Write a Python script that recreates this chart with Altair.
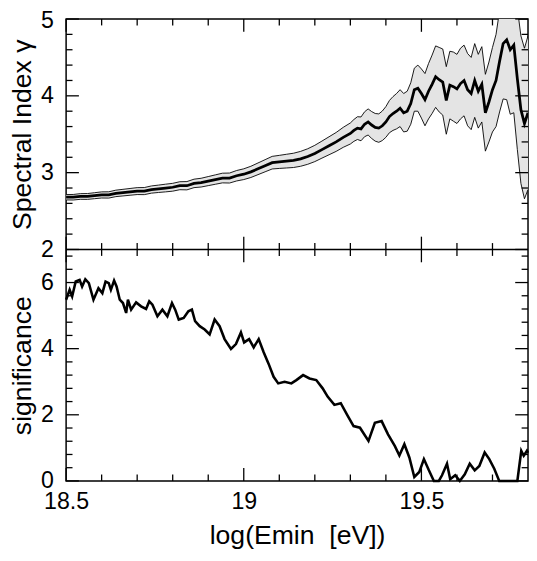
import altair as alt
import pandas as pd

# ---------------- data ----------------
top_x = [18.50, 18.52, 18.54, 18.56, 18.58, 18.60, 18.62, 18.64, 18.66, 18.68,
         18.70, 18.72, 18.74, 18.76, 18.78, 18.80, 18.82, 18.84, 18.86, 18.88,
         18.90, 18.92, 18.94, 18.96, 18.98, 19.00, 19.02, 19.04, 19.06, 19.08,
         19.10, 19.12, 19.14, 19.16, 19.18, 19.20, 19.22, 19.24, 19.26, 19.28,
         19.30, 19.31, 19.32, 19.33, 19.34, 19.35, 19.36, 19.37, 19.38, 19.39,
         19.40, 19.41, 19.42, 19.43, 19.44, 19.45, 19.46, 19.47, 19.48, 19.49,
         19.50, 19.51, 19.52, 19.53, 19.54, 19.55, 19.56, 19.57, 19.58, 19.59,
         19.60, 19.61, 19.62, 19.63, 19.64, 19.65, 19.66, 19.67, 19.68, 19.69,
         19.70, 19.71, 19.72, 19.73, 19.74, 19.75, 19.76, 19.77, 19.78, 19.79,
         19.80]
top_c = [2.68, 2.68, 2.69, 2.69, 2.70, 2.71, 2.71, 2.73, 2.74, 2.75,
         2.76, 2.76, 2.78, 2.79, 2.80, 2.81, 2.83, 2.83, 2.86, 2.87,
         2.89, 2.91, 2.93, 2.93, 2.96, 2.98, 3.01, 3.05, 3.09, 3.13,
         3.14, 3.15, 3.16, 3.18, 3.21, 3.25, 3.30, 3.35, 3.40, 3.46,
         3.51, 3.55, 3.58, 3.57, 3.63, 3.66, 3.62, 3.59, 3.58, 3.61,
         3.66, 3.73, 3.77, 3.80, 3.84, 3.78, 3.80, 3.90, 4.08, 4.10,
         4.03, 3.95, 4.06, 4.15, 4.25, 4.21, 4.18, 3.94, 4.14, 4.12,
         4.09, 4.16, 4.20, 4.08, 4.03, 4.20, 4.06, 4.15, 3.78, 3.92,
         4.08, 4.20, 4.45, 4.68, 4.73, 4.60, 4.66, 4.22, 3.82, 3.64,
         3.78]
top_err = [0.035, 0.036, 0.037, 0.038, 0.039, 0.040, 0.041, 0.042, 0.043, 0.044,
           0.045, 0.046, 0.047, 0.048, 0.050, 0.051, 0.052, 0.054, 0.055, 0.057,
           0.059, 0.061, 0.063, 0.065, 0.068, 0.070, 0.073, 0.076, 0.079, 0.082,
           0.085, 0.089, 0.093, 0.097, 0.101, 0.106, 0.111, 0.117, 0.123, 0.130,
           0.137, 0.142, 0.148, 0.155, 0.162, 0.170, 0.175, 0.180, 0.185, 0.192,
           0.200, 0.21, 0.22, 0.23, 0.24, 0.25, 0.26, 0.27, 0.28, 0.30,
           0.32, 0.34, 0.36, 0.38, 0.40, 0.42, 0.43, 0.44, 0.44, 0.45,
           0.45, 0.46, 0.46, 0.47, 0.47, 0.48, 0.48, 0.49, 0.50, 0.52,
           0.55, 0.60, 0.66, 0.72, 0.78, 0.84, 0.88, 0.92, 0.96, 0.98,
           1.00]

sig_x = [18.500, 18.510, 18.517, 18.527, 18.538, 18.545, 18.554, 18.564, 18.577, 18.591,
         18.602, 18.611, 18.620, 18.626, 18.635, 18.642, 18.651, 18.660, 18.669, 18.674,
         18.683, 18.697, 18.711, 18.725, 18.734, 18.743, 18.757, 18.771, 18.785, 18.798,
         18.807, 18.817, 18.831, 18.844, 18.854, 18.863, 18.876, 18.890, 18.904, 18.918,
         18.932, 18.946, 18.964, 18.978, 18.992, 19.001, 19.015, 19.028, 19.042, 19.056,
         19.070, 19.084, 19.097, 19.115, 19.134, 19.148, 19.167, 19.185, 19.204, 19.222,
         19.236, 19.255, 19.273, 19.291, 19.309, 19.327, 19.351, 19.369, 19.388, 19.406,
         19.425, 19.438, 19.452, 19.466, 19.480, 19.494, 19.507, 19.521, 19.535, 19.549,
         19.558, 19.572, 19.581, 19.595, 19.608, 19.622, 19.636, 19.650, 19.663, 19.678,
         19.691, 19.705, 19.719, 19.770, 19.781, 19.788, 19.797, 19.800]
sig_v = [5.48, 5.78, 5.58, 6.03, 6.08, 5.88, 6.10, 5.98, 5.48, 5.83,
         5.68, 6.03, 5.98, 5.78, 6.06, 5.88, 5.48, 5.38, 5.08, 5.48,
         5.18, 5.40, 5.28, 5.20, 5.43, 5.33, 4.98, 5.18, 4.98, 5.38,
         5.18, 4.88, 4.93, 5.13, 5.18, 4.83, 4.68, 4.58, 4.43, 4.88,
         4.68, 4.29, 3.99, 4.14, 4.49, 4.19, 4.29, 4.04, 4.29, 3.89,
         3.54, 3.15, 2.95, 3.00, 2.95, 3.05, 3.20, 3.10, 3.05, 2.80,
         2.55, 2.30, 2.35, 2.00, 1.66, 1.61, 1.21, 1.76, 1.81, 1.41,
         1.06, 0.77, 1.11, 0.71, 0.12, 0.27, 0.66, 0.32, 0.00, 0.00,
         0.17, 0.52, 0.05, 0.17, 0.00, 0.20, 0.52, 0.32, 0.45, 0.86,
         0.66, 0.37, 0.00, 0.00, 0.91, 0.76, 0.91, 0.85]

top_y_major = [2, 3, 4, 5]
top_y_minor = [2.2, 2.4, 2.6, 2.8, 3.2, 3.4, 3.6, 3.8, 4.2, 4.4, 4.6, 4.8]
bot_y_major = [0, 2, 4, 6]
bot_y_minor = [0.4, 0.8, 1.2, 1.6, 2.4, 2.8, 3.2, 3.6, 4.4, 4.8, 5.2, 5.6, 6.4, 6.8]
x_major = [18.5, 19.0, 19.5]
x_minor = [18.6, 18.7, 18.8, 18.9, 19.1, 19.2, 19.3, 19.4, 19.6, 19.7]

# ---------------- styling ----------------
W = 469            # plot width
H1 = 234           # upper panel height
H = 469            # both panels together
MAJ, MIN = 13, 6.5
FONT = "Liberation Sans"
LAB = 23.5
TIT = 27

xs = alt.Scale(domain=[18.5, 19.8], nice=False, zero=False)
ys_top = alt.Scale(domain=[2, 5], range=[H1, 0], nice=False, zero=False)
ys_bot = alt.Scale(domain=[0, 7], range=[H, H1], nice=False, zero=False)

AX = dict(labelFont=FONT, titleFont=FONT, labelFontSize=LAB, titleFontSize=TIT,
          labelColor="black", titleColor="black", titleFontWeight="normal",
          grid=False, domain=False, ticks=False, tickSize=0, labelFlush=False)

ax_top_y = alt.Axis(values=top_y_major, format="d", title="Spectral Index γ",
                    orient="left", labelPadding=13, titlePadding=4,
                    labelOffset={"condition": {"test": "datum.value === 5", "value": 2},
                                 "value": 0},
                    **AX)
ax_bot_y = alt.Axis(values=bot_y_major, format="d", title="significance",
                    orient="left", labelPadding=13, titlePadding=4, **AX)
ax_x = alt.Axis(values=x_major, format="~g", title="log(Emin\u00a0 [eV])",
                orient="bottom", labelPadding=9.5, titlePadding=10, **AX)

top_df = pd.DataFrame({
    "x": top_x,
    "c": top_c,
    "lo": [c - e for c, e in zip(top_c, top_err)],
    "hi": [c + e for c, e in zip(top_c, top_err)],
})
sig_df = pd.DataFrame({"x": sig_x, "s": sig_v})

RULE = dict(color="black", strokeWidth=1.3)
X = dict(scale=xs, axis=ax_x)


def y_ticks(vals, ys, length):
    d = pd.DataFrame({"t": vals})
    base = alt.Chart(d).mark_rule(**RULE)
    left = base.encode(y=alt.Y("t:Q", scale=ys, axis=None),
                       x=alt.value(0), x2=alt.value(length))
    right = base.encode(y=alt.Y("t:Q", scale=ys, axis=None),
                        x=alt.value(W), x2=alt.value(W - length))
    return [left, right]


def x_ticks(vals, length):
    d = pd.DataFrame({"t": vals})
    base = alt.Chart(d).mark_rule(**RULE)
    out = []
    for y0, y1 in [(0, length), (H1, H1 - length), (H1, H1 + length), (H, H - length)]:
        out.append(base.encode(x=alt.X("t:Q", **X),
                               y=alt.value(y0), y2=alt.value(y1)))
    return out


tb = alt.Chart(top_df)
band = tb.mark_area(color="#e4e4e4", clip=True).encode(
    x=alt.X("x:Q", **X),
    y=alt.Y("lo:Q", scale=ys_top, axis=ax_top_y),
    y2="hi:Q",
)
hi_line = tb.mark_line(color="black", strokeWidth=0.9, clip=True).encode(
    x=alt.X("x:Q", **X),
    y=alt.Y("hi:Q", scale=ys_top, axis=None),
)
lo_line = tb.mark_line(color="black", strokeWidth=0.9, clip=True).encode(
    x=alt.X("x:Q", **X),
    y=alt.Y("lo:Q", scale=ys_top, axis=None),
)
c_line = tb.mark_line(color="black", strokeWidth=2.8, clip=True).encode(
    x=alt.X("x:Q", **X),
    y=alt.Y("c:Q", scale=ys_top, axis=None),
)
s_line = alt.Chart(sig_df).mark_line(color="black", strokeWidth=2.6).encode(
    x=alt.X("x:Q", **X),
    y=alt.Y("s:Q", scale=ys_bot, axis=ax_bot_y),
)
divider = alt.Chart(pd.DataFrame({"t": [0]})).mark_rule(color="black", strokeWidth=1.5).encode(
    x=alt.value(0), x2=alt.value(W), y=alt.value(H1))

layers = [band, hi_line, lo_line, c_line, s_line, divider]
layers += y_ticks(top_y_major, ys_top, MAJ)
layers += y_ticks(top_y_minor, ys_top, MIN)
layers += y_ticks(bot_y_major, ys_bot, MAJ)
layers += y_ticks(bot_y_minor, ys_bot, MIN)
layers += x_ticks(x_major, MAJ)
layers += x_ticks(x_minor, MIN)

chart = (
    alt.layer(*layers)
    .resolve_scale(y="independent")
    .properties(
        width=W, height=H,
        autosize=alt.AutoSizeParams(type="none"),
        padding={"left": 59, "top": 7, "right": 1, "bottom": 69},
    )
    .configure_view(stroke="black", strokeWidth=1.5)
)

chart.save("out.html", embed_options={"renderer": "svg", "actions": False})
